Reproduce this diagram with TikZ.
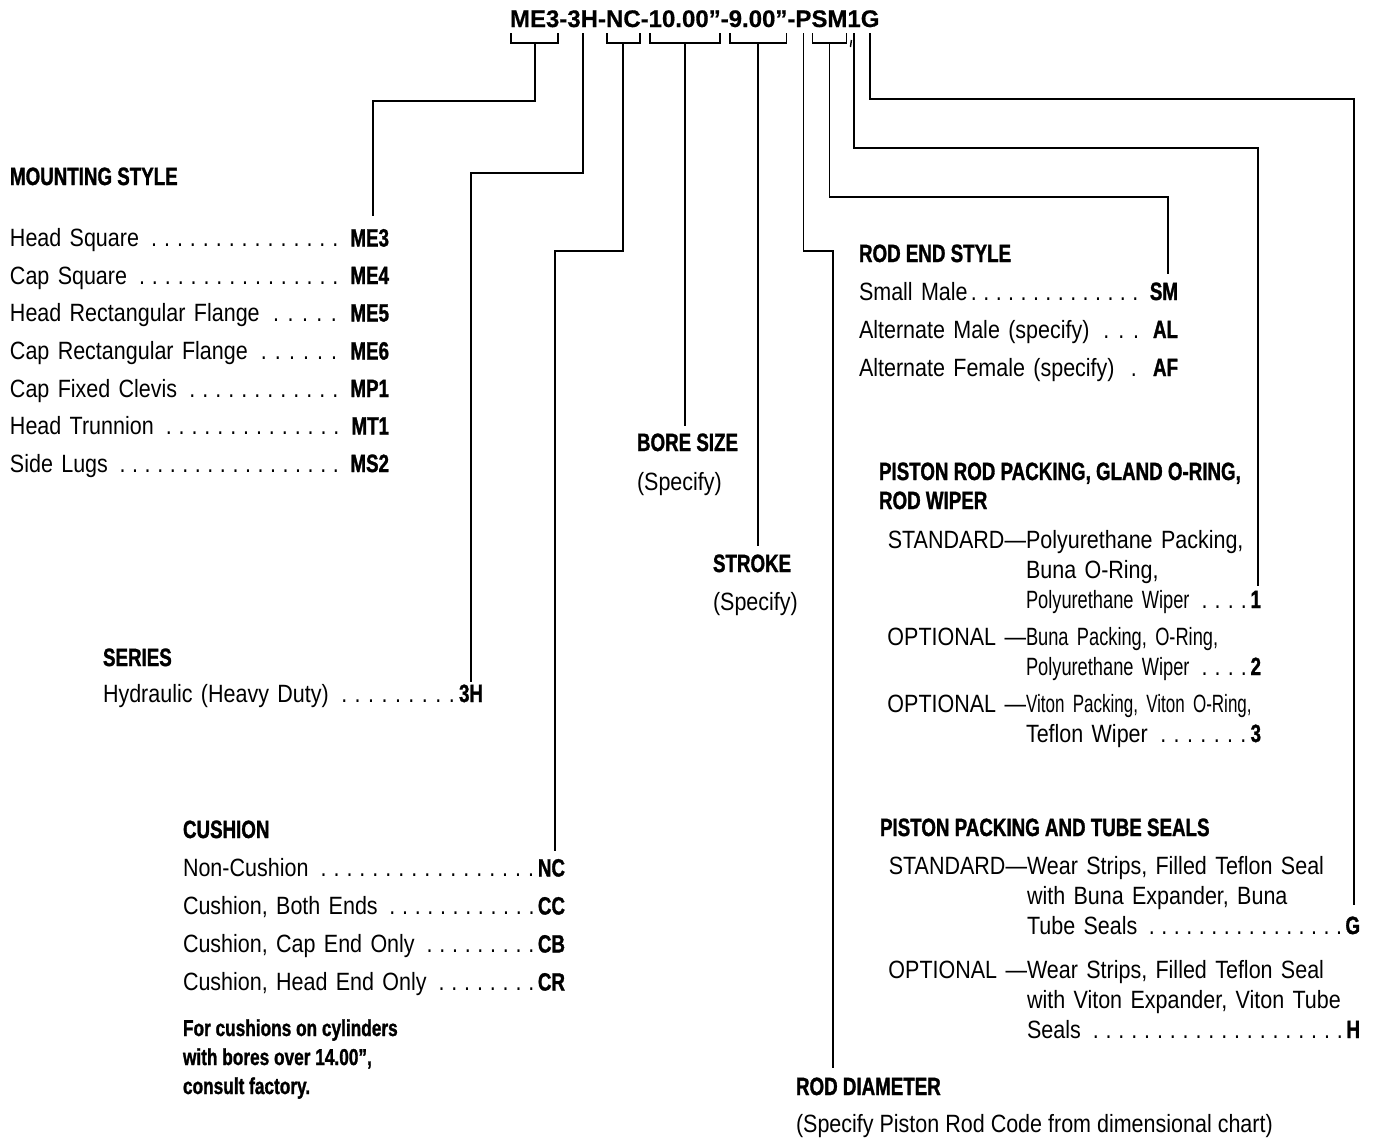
\documentclass[tikz,border=0pt]{standalone}
\usepackage{fontspec}
\setmainfont{Liberation Sans}[FakeStretch=0.86]
\newfontfamily\headfont{Liberation Sans}[FakeStretch=0.75, BoldFeatures={FakeBold=1.2}]
\newfontfamily\narrowfont{Liberation Sans}[FakeStretch=0.73]
\newfontfamily\vnarrowfont{Liberation Sans}[FakeStretch=0.68]
\newfontfamily\codefont{Liberation Sans}[BoldFeatures={FakeBold=0.6}]
\usetikzlibrary{positioning, calc}
\newcommand{\leaderdots}{\xleaders\hbox to 6.2pt{\hss.\hss}\hfill}
\newcommand{\opt}[1]{{\headfont\bfseries #1}}
\newcommand{\codebracket}[1]{\draw ($(#1.south west)+(1,6)$) |- ($(#1.south east)+(-1,16)$) -- ++(0,-10);}

\begin{document}
\begin{tikzpicture}[
	x=0.5pt, y=-0.5pt,
	line width=0.9pt,
	font=\fontsize{12.5}{15}\selectfont,
	codeseg/.style={inner sep=0pt, outer sep=0pt, anchor=base west, text depth=0pt, font=\codefont\bfseries\fontsize{12}{14}\selectfont},
	heading/.style={inner sep=0pt, outer sep=0pt, anchor=base west, align=left, font=\headfont\bfseries\fontsize{12.5}{14.5}\selectfont},
	item/.style={inner sep=0pt, outer sep=0pt, anchor=base west, align=left},
	note/.style={heading, font=\headfont\bfseries\fontsize{11.5}{14.5}\selectfont}
	]
	
	\useasboundingbox (0,0) rectangle (1374,1137);
	
	% --------------------------------------------------
	% Model code
	% --------------------------------------------------
	\node[codeseg] (cMnt) at (510,27) {ME3};
	\node[codeseg] (cD1) at (cMnt.base east) {-};
	\node[codeseg] (cSer) at (cD1.base east) {3H};
	\node[codeseg] (cD2) at (cSer.base east) {-};
	\node[codeseg] (cCsh) at (cD2.base east) {NC};
	\node[codeseg] (cD3) at (cCsh.base east) {-};
	\node[codeseg] (cBore) at (cD3.base east) {10.00”};
	\node[codeseg] (cD4) at (cBore.base east) {-};
	\node[codeseg] (cStr) at (cD4.base east) {9.00”};
	\node[codeseg] (cD5) at (cStr.base east) {-};
	\node[codeseg] (cRod) at (cD5.base east) {P};
	\node[codeseg] (cEnd) at (cRod.base east) {SM};
	\node[codeseg] (cPkg) at (cEnd.base east) {1};
	\node[codeseg] (cSeal) at (cPkg.base east) {G};
	
	\codebracket{cMnt}
	\codebracket{cCsh}
	\codebracket{cBore}
	\codebracket{cStr}
	\codebracket{cEnd}
	\draw[line width=0.7pt] ($(cEnd.south east)+(4,13)$) -- ++(-1,7);
	
	% --------------------------------------------------
	% Mounting style
	% --------------------------------------------------
	\node[heading] (hMnt) at (10,185) {MOUNTING STYLE};
	\node[item, text width=189.5pt] (mHSq) at (10,246.5) {Head Square \leaderdots\ \opt{ME3}};
	\node[item, text width=189.5pt] (mCSq) at (10,284) {Cap Square \leaderdots\ \opt{ME4}};
	\node[item, text width=189.5pt] (mHRf) at (10,321.5) {Head Rectangular Flange \leaderdots\ \opt{ME5}};
	\node[item, text width=189.5pt] (mCRf) at (10,359.5) {Cap Rectangular Flange \leaderdots\ \opt{ME6}};
	\node[item, text width=189.5pt] (mCFc) at (10,397) {Cap Fixed Clevis \leaderdots\ \opt{MP1}};
	\node[item, text width=189.5pt] (mHTr) at (10,434.5) {Head Trunnion \leaderdots\ \opt{MT1}};
	\node[item, text width=189.5pt] (mSLg) at (10,472) {Side Lugs \leaderdots\ \opt{MS2}};
	
	% --------------------------------------------------
	% Series and cushion
	% --------------------------------------------------
	\node[heading] (hSer) at (103,666) {SERIES};
	\node[item, text width=190pt] (sHyd) at (103,702) {Hydraulic (Heavy Duty) \leaderdots\opt{3H}};
	
	\node[heading] (hCsh) at (183,838) {CUSHION};
	\node[item, text width=191pt] (kNon) at (183,876.5) {Non-Cushion \leaderdots\opt{NC}};
	\node[item, text width=191pt] (kBoth) at (183,914.5) {Cushion, Both Ends \leaderdots\opt{CC}};
	\node[item, text width=191pt] (kCap) at (183,952.5) {Cushion, Cap End Only \leaderdots\opt{CB}};
	\node[item, text width=191pt] (kHead) at (183,990.5) {Cushion, Head End Only \leaderdots\opt{CR}};
	\node[note] (nCsh) at (183,1094) {For cushions on cylinders\\with bores over 14.00”,\\consult factory.};
	
	% --------------------------------------------------
	% Bore, stroke, rod diameter
	% --------------------------------------------------
	\node[heading] (hBore) at (637,451) {BORE SIZE};
	\node[item] (sBore) at (637,490) {(Specify)};
	
	\node[heading] (hStr) at (713,572) {STROKE};
	\node[item] (sStr) at (713,610) {(Specify)};
	
	\node[heading] (hDia) at (796,1095) {ROD DIAMETER};
	\node[item] (sDia) at (796,1132) {(Specify Piston Rod Code from dimensional chart)};
	
	% --------------------------------------------------
	% Rod end style
	% --------------------------------------------------
	\node[heading] (hEnd) at (859,262) {ROD END STYLE};
	\node[item, text width=159.5pt] (eSm) at (859,300) {Small Male\leaderdots\ \opt{SM}};
	\node[item, text width=159.5pt] (eAl) at (859,338) {Alternate Male (specify) \leaderdots\ \opt{AL}};
	\node[item, text width=159.5pt] (eAf) at (859,376) {Alternate Female (specify) \leaderdots\ \opt{AF}};
	
	% --------------------------------------------------
	% Packings and seals
	% --------------------------------------------------
	\node[heading] (hPkg) at (879,509) {PISTON ROD PACKING, GLAND O-RING,\\ROD WIPER};
	\node[item, text width=117.5pt] (pStd) at (1026,548)
	{\llap{STANDARD—}Polyurethane Packing,\\Buna O-Ring,\\{\narrowfont Polyurethane Wiper} \leaderdots\opt{1}};
	\node[item, text width=117.5pt] (pOpa) at (1026,645)
	{\llap{OPTIONAL —}{\narrowfont Buna Packing, O-Ring,}\\{\narrowfont Polyurethane Wiper} \leaderdots\opt{2}};
	\node[item, text width=117.5pt] (pOpb) at (1026,712)
	{\llap{OPTIONAL —}\mbox{\vnarrowfont Viton Packing, Viton O-Ring,}\\Teflon Wiper \leaderdots\opt{3}};
	
	\node[heading] (hSeal) at (880,836) {PISTON PACKING AND TUBE SEALS};
	\node[item, text width=166.5pt] (tStd) at (1027,874)
	{\llap{STANDARD—}Wear Strips, Filled Teflon Seal\\with Buna Expander, Buna\\Tube Seals \leaderdots\opt{G}};
	\node[item, text width=166.5pt] (tOpt) at (1027,978)
	{\llap{OPTIONAL —}Wear Strips, Filled Teflon Seal\\with Viton Expander, Viton Tube\\Seals \leaderdots\opt{H}};
	
	% --------------------------------------------------
	% Leader lines from the code
	% --------------------------------------------------
	\draw ($(cMnt.south)+(0,16)$) -- ++(0,58) -| ($(mHSq.base east)+(-16,-31)$);
	\draw ($(cSer.south)+(0,6)$) -- ++(0,140) -| ($(sHyd.base east)+(-12,-20)$);
	\draw ($(cCsh.south)+(0,16)$) -- ++(0,208) -| ($(kNon.base east)+(-10,-26)$);
	\draw ($(cBore.south)+(0,16)$) -- ($(cBore.south |- hBore.north)+(0,-8)$);
	\draw ($(cStr.south)+(0,16)$) -- ($(cStr.south |- hStr.north)+(0,-9)$);
	\draw ($(cRod.south)+(0,6)$) -- ++(0,218) -| ($(hDia.north west)+(37,-10)$);
	\draw ($(cEnd.south)+(0,16)$) -- ++(0,154) -| ($(eSm.base east)+(-10,-26)$);
	\draw ($(cPkg.south)+(0,6)$) -- ++(0,115) -| ($(pStd.south east)+(-3,-27)$);
	\draw ($(cSeal.south)+(0,6)$) -- ++(0,66) -| ($(tStd.south east)+(-6,-29)$);
	
\end{tikzpicture}
\end{document}
